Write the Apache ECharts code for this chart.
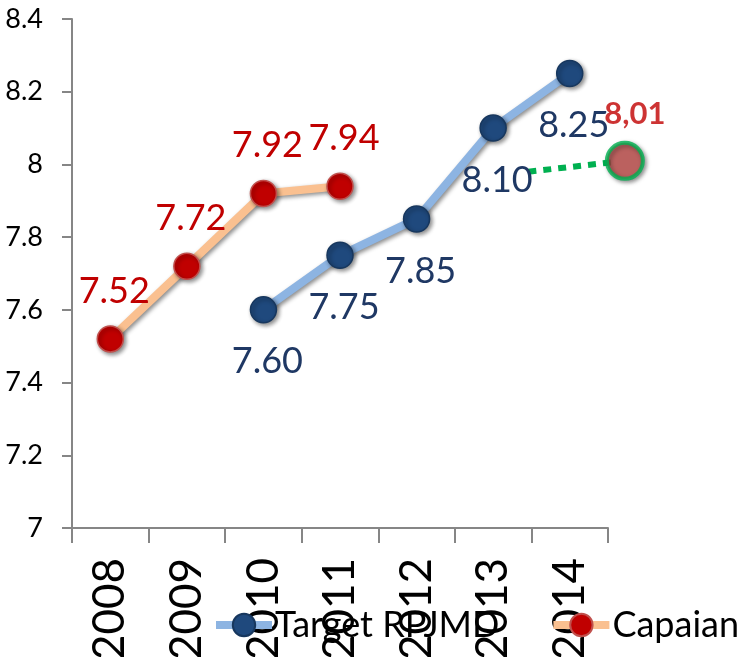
<!DOCTYPE html>
<html>
<head>
<meta charset="utf-8">
<script src="https://cdn.jsdelivr.net/npm/echarts@6/dist/echarts.min.js"></script>
<style>
  html, body { margin: 0; padding: 0; background: #fff; }
  #chart { width: 755px; height: 657px; }
</style>
</head>
<body>
<div id="chart"></div>
<script>
// Years on the category axis
const years = ['2008', '2009', '2010', '2011', '2012', '2013', '2014'];

// Target RPJMD (plan) and Capaian (achievement) per year
const targetRPJMD = [null, null, 7.60, 7.75, 7.85, 8.10, 8.25];
const capaian = [7.52, 7.72, 7.92, 7.94, null, null, null];

// Latest achievement, placed just past the last year slot (slot units: 2008 = 0.5)
const latestCapaian = [7.22, 8.01];
// Dotted connector leading to the latest achievement
const connector = [[5.96, 7.98], [7.22, 8.01]];

// Y axis range / ticks
const yMin = 7, yMax = 8.4, yStep = 0.2;

const FONT = 'Lato';
const shadow = { shadowColor: 'rgba(0,0,0,0.45)', shadowBlur: 4, shadowOffsetX: 2, shadowOffsetY: 2 };

const chart = echarts.init(document.getElementById('chart'));
chart.setOption({
  backgroundColor: '#ffffff',
  animation: false,
  grid: { left: 72, right: 147, top: 19, bottom: 129, containLabel: false, outerBoundsMode: 'none' },
  legend: {
    data: [
      { name: 'Target RPJMD', lineStyle: { width: 8 } },
      { name: 'Capaian', lineStyle: { width: 8 } }
    ],
    left: 212,
    top: 607,
    padding: 0,
    itemWidth: 56,
    itemHeight: 28,
    itemGap: 50,
    textStyle: { fontFamily: FONT, fontSize: 36, color: '#000', padding: [0, 0, 0, -2] },
  },
  xAxis: [
    {
      type: 'category',
      data: years,
      boundaryGap: true,
      axisLine: { lineStyle: { color: '#868686', width: 2 } },
      axisTick: { show: true, length: 15, lineStyle: { color: '#868686', width: 2 } },
      axisLabel: {
        rotate: 90,
        margin: 30,
        fontFamily: FONT,
        fontSize: 44,
        color: '#000'
      },
      splitLine: { show: false }
    },
    { type: 'value', min: 0, max: 7, show: false }
  ],
  yAxis: {
    type: 'value',
    min: yMin,
    max: yMax,
    interval: yStep,
    axisLine: { show: true, lineStyle: { color: '#868686', width: 2 } },
    axisTick: { show: true, length: 10, lineStyle: { color: '#868686', width: 2 } },
    splitLine: { show: false },
    axisLabel: {
      margin: 29,
      fontFamily: FONT,
      fontSize: 27,
      color: '#000',
      formatter: v => String(+v.toFixed(1))
    }
  },
  series: [
    {
      name: 'Target RPJMD',
      type: 'line',
      data: targetRPJMD,
      symbol: 'circle',
      symbolSize: 26,
      z: 3,
      lineStyle: Object.assign({ color: '#8DB4E2', width: 8 }, shadow),
      itemStyle: Object.assign({ color: '#1F497D', borderColor: '#17375E', borderWidth: 1.5 }, shadow),
      label: {
        show: true,
        position: 'inside',
        offset: [4, 52],
        formatter: p => p.value.toFixed(2),
        fontFamily: FONT,
        fontSize: 36,
        color: '#1F3864'
      }
    },
    {
      name: 'Capaian',
      type: 'line',
      data: capaian,
      symbol: 'circle',
      symbolSize: 26,
      z: 3,
      lineStyle: Object.assign({ color: '#FAC090', width: 8 }, shadow),
      itemStyle: Object.assign({ color: '#C00000', borderColor: '#C0504D', borderWidth: 1.5 }, shadow),
      label: {
        show: true,
        position: 'inside',
        offset: [4, -48],
        formatter: p => p.value.toFixed(2),
        fontFamily: FONT,
        fontSize: 36,
        color: '#C00000'
      }
    },
    {
      name: 'connector',
      type: 'line',
      xAxisIndex: 1,
      data: connector,
      symbol: 'none',
      clip: false,
      z: 2,
      silent: true,
      lineStyle: { color: '#00B050', width: 6, type: [8, 7], cap: 'butt' }
    },
    {
      name: 'latest',
      type: 'scatter',
      xAxisIndex: 1,
      data: [latestCapaian],
      symbol: 'circle',
      symbolSize: 36,
      clip: false,
      z: 4,
      itemStyle: Object.assign({ color: '#C0504D', borderColor: '#00B050', borderWidth: 4 }, shadow),
      label: {
        show: true,
        position: 'inside',
        offset: [10, -47],
        formatter: p => p.value[1].toFixed(2).replace('.', ','),
        fontFamily: FONT,
        fontSize: 31,
        fontWeight: 'bold',
        color: '#C00000'
      }
    }
  ]
});
</script>
</body>
</html>
